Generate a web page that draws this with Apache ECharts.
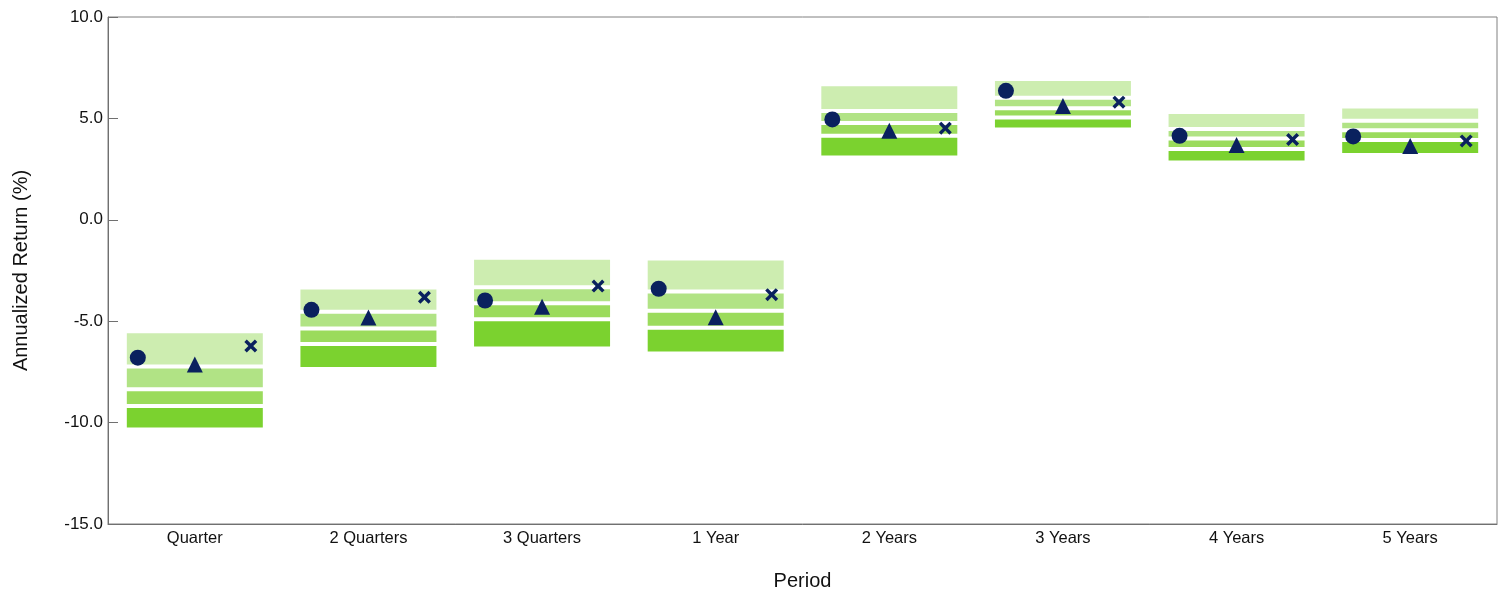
<!DOCTYPE html>
<html>
<head>
<meta charset="utf-8">
<script src="https://cdn.jsdelivr.net/npm/echarts@6/dist/echarts.min.js"></script>
<style>
html,body{margin:0;padding:0;background:#fff;}
#chart{width:1501px;height:590px;}
</style>
</head>
<body>
<div id="chart"></div>
<script>
var categories = ['Quarter', '2 Quarters', '3 Quarters', '1 Year', '2 Years', '3 Years', '4 Years', '5 Years'];
var yTicks = [-15, -10, -5, 0, 5, 10];
// percentile boundaries of the peer range
var p95 = [-5.50, -3.34, -1.87, -1.91, 6.69, 6.94, 5.31, 5.59];
var p75 = [-7.23, -4.54, -3.33, -3.54, 5.37, 6.02, 4.48, 4.89];
var p50 = [-8.36, -5.36, -4.12, -4.49, 4.77, 5.50, 4.01, 4.42];
var p25 = [-9.18, -6.12, -4.91, -5.32, 4.14, 5.05, 3.49, 3.93];
var p5  = [-10.34, -7.36, -6.34, -6.59, 3.07, 4.45, 2.83, 3.20];
// marker series
var circleVals   = [-6.80, -4.44, -3.98, -3.40, 4.95, 6.36, 4.14, 4.11];
var triangleVals = [-7.13, -4.82, -4.29, -4.81, 4.39, 5.61, 3.69, 3.64];
var crossVals    = [-6.22, -3.82, -3.27, -3.69, 4.52, 5.80, 3.96, 3.89];

function diff(a, b) { return a.map(function (v, i) { return +(v - b[i]).toFixed(4); }); }

var FONT = 'Liberation Sans, Arial, sans-serif';
var NAVY = '#0a215e';
var crossPath = 'path://M0,3 L3,0 L8,5 L13,0 L16,3 L11,8 L16,13 L13,16 L8,11 L3,16 L0,13 L5,8 Z';

function band(data, color) {
  return {
    type: 'bar', stack: 'range', stackStrategy: 'all', barWidth: 140, silent: true,
    data: data,
    itemStyle: { color: color, borderColor: '#ffffff', borderWidth: 2 }
  };
}

var chart = echarts.init(document.getElementById('chart'));
chart.setOption({
  animation: false,
  backgroundColor: '#ffffff',
  textStyle: { fontFamily: FONT },
  grid: { left: 108, right: 4, top: 17, bottom: 66, show: true, borderColor: '#808080', borderWidth: 1,
          containLabel: false, outerBoundsMode: 'none' },
  xAxis: {
    type: 'category', data: categories,
    axisLine: { show: true, onZero: false, lineStyle: { color: '#707070', width: 1 } },
    axisTick: { show: false },
    axisLabel: { fontSize: 16.5, color: '#111', margin: 6, fontFamily: FONT },
    name: 'Period', nameLocation: 'middle', nameGap: 47,
    nameTextStyle: { fontSize: 20, color: '#111', fontFamily: FONT }
  },
  yAxis: {
    type: 'value', min: yTicks[0], max: yTicks[yTicks.length - 1], interval: 5,
    axisLine: { show: true, lineStyle: { color: '#707070', width: 1 } },
    axisTick: { show: true, inside: true, length: 10, lineStyle: { color: '#707070' } },
    splitLine: { show: false },
    axisLabel: { fontSize: 17, color: '#111', margin: 5, fontFamily: FONT, formatter: function (v) { return v.toFixed(1); } },
    name: 'Annualized Return (%)', nameLocation: 'middle', nameGap: 77,
    nameTextStyle: { fontSize: 20, color: '#111', fontFamily: FONT }
  },
  series: [
    { type: 'bar', stack: 'range', stackStrategy: 'all', barWidth: 140, silent: true, data: p5,
      itemStyle: { color: 'rgba(0,0,0,0)', borderWidth: 0 } },
    band(diff(p25, p5), '#7bd22f'),
    band(diff(p50, p25), '#9bdb5c'),
    band(diff(p75, p50), '#b1e385'),
    band(diff(p95, p75), '#cdedb0'),
    { type: 'scatter', data: circleVals, symbol: 'circle', symbolSize: 16, symbolOffset: [-57, 0],
      itemStyle: { color: NAVY, opacity: 1 }, z: 5 },
    { type: 'scatter', data: triangleVals, symbol: 'triangle', symbolSize: 16, symbolOffset: [0, 0],
      itemStyle: { color: NAVY, opacity: 1 }, z: 5 },
    { type: 'scatter', data: crossVals, symbol: crossPath, symbolSize: 13, symbolOffset: [56, 0],
      itemStyle: { color: NAVY, opacity: 1 }, z: 5 }
  ]
});
</script>
</body>
</html>
